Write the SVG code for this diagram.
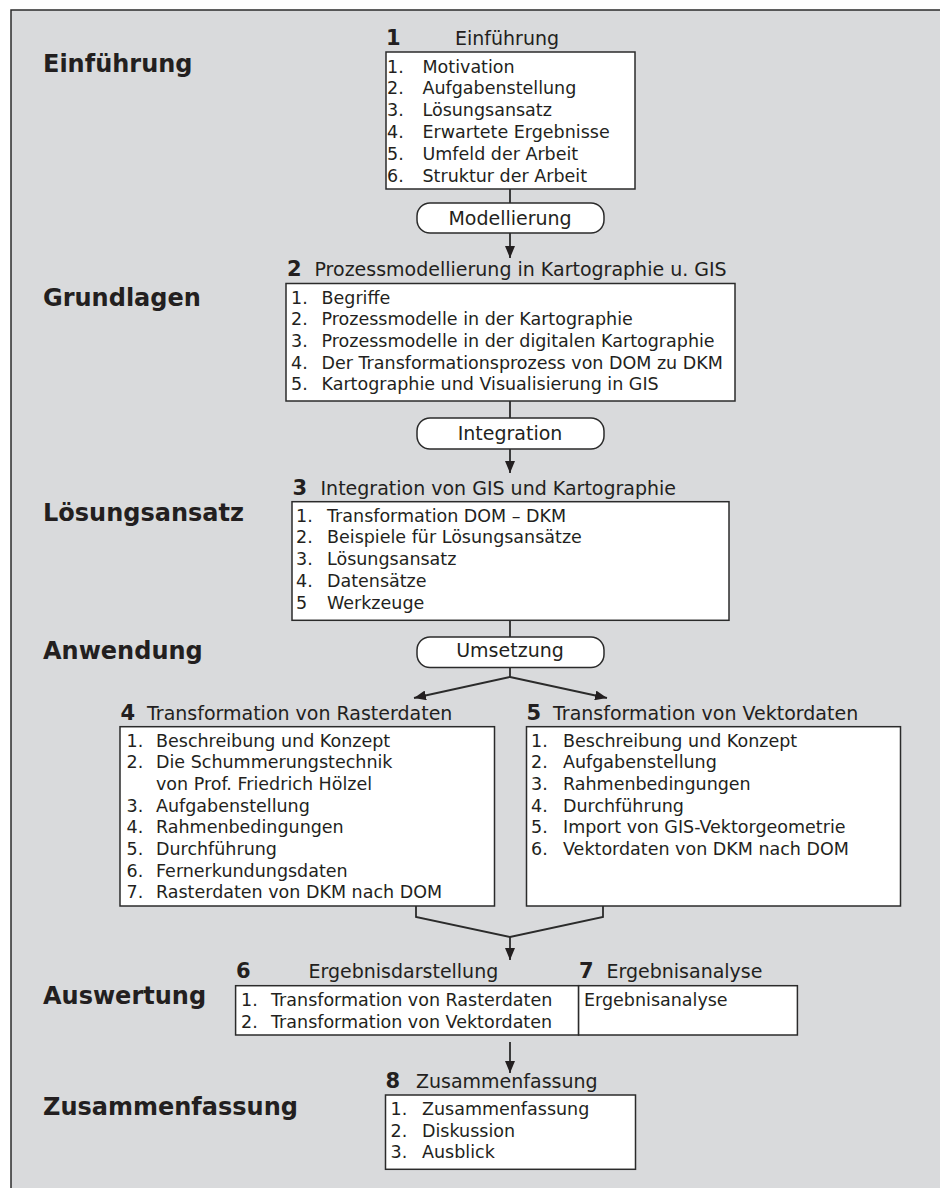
<svg xmlns="http://www.w3.org/2000/svg" width="940" height="1188" viewBox="0 0 940 1188">
  <style>
    text { font-family: "DejaVu Sans", Verdana, sans-serif; fill: #231f20; }
    .label { font-size: 24px; font-weight: bold; }
    .num { font-size: 21px; font-weight: bold; }
    .title { font-size: 19px; }
    .item { font-size: 17.5px; }
    .pilltext { font-size: 19px; text-anchor: middle; }
    .box { fill: #ffffff; stroke: #2b2b2b; stroke-width: 1.5; }
    .pill { fill: #ffffff; stroke: #2b2b2b; stroke-width: 1.5; }
    .conn { fill: none; stroke: #2b2b2b; stroke-width: 1.8; }
  </style>
  <defs>
    <marker id="arrow" viewBox="0 0 12 10" refX="12" refY="5" markerWidth="12" markerHeight="10" markerUnits="userSpaceOnUse" orient="auto">
      <path d="M0,0 L12,5 L0,10 Z" fill="#231f20"/>
    </marker>
  </defs>

  <!-- frame -->
  <rect x="11" y="10" width="929" height="1178" fill="#d9dadc"/>
  <path d="M11,1188 V10 H940" fill="none" stroke="#2b2b2b" stroke-width="1.5"/>

  <!-- phase labels -->
  <g id="phase-labels">
    <text class="label" x="43" y="72">Einführung</text>
    <text class="label" x="43" y="306">Grundlagen</text>
    <text class="label" x="43" y="521">Lösungsansatz</text>
    <text class="label" x="43" y="659">Anwendung</text>
    <text class="label" x="43" y="1004">Auswertung</text>
    <text class="label" x="43" y="1115">Zusammenfassung</text>
  </g>

  <!-- connectors -->
  <g id="connectors">
    <path class="conn" d="M510,189 V203"/>
    <path class="conn" d="M510,233 V258" marker-end="url(#arrow)"/>
    <path class="conn" d="M510,401 V418"/>
    <path class="conn" d="M510,449 V473" marker-end="url(#arrow)"/>
    <path class="conn" d="M510,620 V637"/>
    <path class="conn" d="M510,667 V677 L414,698" marker-end="url(#arrow)"/>
    <path class="conn" d="M510,677 L607,698" marker-end="url(#arrow)"/>
    <path class="conn" d="M416,906 V917 L510,937 L603,917 V906"/>
    <path class="conn" d="M510,937 V960" marker-end="url(#arrow)"/>
    <path class="conn" d="M510,1042 V1073" marker-end="url(#arrow)"/>
  </g>

  <!-- chapter 1 -->
  <g id="ch1">
    <text class="num" x="386" y="45">1</text>
    <text class="title" x="455" y="45">Einführung</text>
    <rect class="box" x="386" y="52" width="249" height="137"/>
    <text class="item" x="387" y="72.5">1.</text><text class="item" x="422.5" y="72.5">Motivation</text>
    <text class="item" x="387" y="94.4">2.</text><text class="item" x="422.5" y="94.4">Aufgabenstellung</text>
    <text class="item" x="387" y="116.3">3.</text><text class="item" x="422.5" y="116.3">Lösungsansatz</text>
    <text class="item" x="387" y="138.2">4.</text><text class="item" x="422.5" y="138.2">Erwartete Ergebnisse</text>
    <text class="item" x="387" y="160.1">5.</text><text class="item" x="422.5" y="160.1">Umfeld der Arbeit</text>
    <text class="item" x="387" y="182">6.</text><text class="item" x="422.5" y="182">Struktur der Arbeit</text>
  </g>

  <g id="pill-modellierung">
    <rect class="pill" x="417" y="203" width="187" height="30" rx="13"/>
    <text class="pilltext" x="510" y="225">Modellierung</text>
  </g>

  <!-- chapter 2 -->
  <g id="ch2">
    <text class="num" x="287" y="276">2</text>
    <text class="title" x="314.5" y="276">Prozessmodellierung in Kartographie u. GIS</text>
    <rect class="box" x="286" y="283.5" width="449" height="117.5"/>
    <text class="item" x="291" y="303.5">1.</text><text class="item" x="321.5" y="303.5">Begriffe</text>
    <text class="item" x="291" y="325.2">2.</text><text class="item" x="321.5" y="325.2">Prozessmodelle in der Kartographie</text>
    <text class="item" x="291" y="346.9">3.</text><text class="item" x="321.5" y="346.9">Prozessmodelle in der digitalen Kartographie</text>
    <text class="item" x="291" y="368.6">4.</text><text class="item" x="321.5" y="368.6">Der Transformationsprozess von DOM zu DKM</text>
    <text class="item" x="291" y="390.3">5.</text><text class="item" x="321.5" y="390.3">Kartographie und Visualisierung in GIS</text>
  </g>

  <g id="pill-integration">
    <rect class="pill" x="417" y="418" width="187" height="31" rx="13"/>
    <text class="pilltext" x="510" y="440">Integration</text>
  </g>

  <!-- chapter 3 -->
  <g id="ch3">
    <text class="num" x="292.5" y="495">3</text>
    <text class="title" x="320.5" y="495">Integration von GIS und Kartographie</text>
    <rect class="box" x="292" y="501.7" width="437" height="118.6"/>
    <text class="item" x="296" y="521.7">1.</text><text class="item" x="327" y="521.7">Transformation DOM – DKM</text>
    <text class="item" x="296" y="543.4">2.</text><text class="item" x="327" y="543.4">Beispiele für Lösungsansätze</text>
    <text class="item" x="296" y="565.1">3.</text><text class="item" x="327" y="565.1">Lösungsansatz</text>
    <text class="item" x="296" y="586.8">4.</text><text class="item" x="327" y="586.8">Datensätze</text>
    <text class="item" x="296" y="608.5">5</text><text class="item" x="327" y="608.5">Werkzeuge</text>
  </g>

  <g id="pill-umsetzung">
    <rect class="pill" x="417" y="637" width="187" height="30.5" rx="13"/>
    <text class="pilltext" x="510" y="657">Umsetzung</text>
  </g>

  <!-- chapter 4 -->
  <g id="ch4">
    <text class="num" x="120.5" y="720">4</text>
    <text class="title" x="147" y="720">Transformation von Rasterdaten</text>
    <rect class="box" x="120" y="726.7" width="374.5" height="179.3"/>
    <text class="item" x="126.5" y="746.7">1.</text><text class="item" x="156" y="746.7">Beschreibung und Konzept</text>
    <text class="item" x="126.5" y="768.3">2.</text><text class="item" x="156" y="768.3">Die Schummerungstechnik</text>
    <text class="item" x="156" y="790">von Prof. Friedrich Hölzel</text>
    <text class="item" x="126.5" y="811.6">3.</text><text class="item" x="156" y="811.6">Aufgabenstellung</text>
    <text class="item" x="126.5" y="833.3">4.</text><text class="item" x="156" y="833.3">Rahmenbedingungen</text>
    <text class="item" x="126.5" y="855">5.</text><text class="item" x="156" y="855">Durchführung</text>
    <text class="item" x="126.5" y="876.6">6.</text><text class="item" x="156" y="876.6">Fernerkundungsdaten</text>
    <text class="item" x="126.5" y="898.3">7.</text><text class="item" x="156" y="898.3">Rasterdaten von DKM nach DOM</text>
  </g>

  <!-- chapter 5 -->
  <g id="ch5">
    <text class="num" x="526.5" y="720">5</text>
    <text class="title" x="553" y="720">Transformation von Vektordaten</text>
    <rect class="box" x="526.5" y="726.7" width="374" height="179.3"/>
    <text class="item" x="531" y="746.7">1.</text><text class="item" x="563" y="746.7">Beschreibung und Konzept</text>
    <text class="item" x="531" y="768.3">2.</text><text class="item" x="563" y="768.3">Aufgabenstellung</text>
    <text class="item" x="531" y="790">3.</text><text class="item" x="563" y="790">Rahmenbedingungen</text>
    <text class="item" x="531" y="811.6">4.</text><text class="item" x="563" y="811.6">Durchführung</text>
    <text class="item" x="531" y="833.3">5.</text><text class="item" x="563" y="833.3">Import von GIS-Vektorgeometrie</text>
    <text class="item" x="531" y="855">6.</text><text class="item" x="563" y="855">Vektordaten von DKM nach DOM</text>
  </g>

  <!-- chapters 6 and 7 -->
  <g id="ch6">
    <text class="num" x="236" y="978.3">6</text>
    <text class="title" x="308.5" y="978.3">Ergebnisdarstellung</text>
    <rect class="box" x="235.6" y="985.7" width="343" height="49.3"/>
    <text class="item" x="241" y="1006">1.</text><text class="item" x="271" y="1006">Transformation von Rasterdaten</text>
    <text class="item" x="241" y="1027.7">2.</text><text class="item" x="271" y="1027.7">Transformation von Vektordaten</text>
  </g>
  <g id="ch7">
    <text class="num" x="579" y="978.3">7</text>
    <text class="title" x="606.5" y="978.3">Ergebnisanalyse</text>
    <rect class="box" x="578.6" y="985.7" width="218.8" height="49.3"/>
    <text class="item" x="584" y="1006">Ergebnisanalyse</text>
  </g>

  <!-- chapter 8 -->
  <g id="ch8">
    <text class="num" x="385.5" y="1088.3">8</text>
    <text class="title" x="416" y="1088.3">Zusammenfassung</text>
    <rect class="box" x="385.5" y="1095" width="250" height="74.3"/>
    <text class="item" x="390.5" y="1115">1.</text><text class="item" x="422" y="1115">Zusammenfassung</text>
    <text class="item" x="390.5" y="1136.7">2.</text><text class="item" x="422" y="1136.7">Diskussion</text>
    <text class="item" x="390.5" y="1158.3">3.</text><text class="item" x="422" y="1158.3">Ausblick</text>
  </g>
</svg>
